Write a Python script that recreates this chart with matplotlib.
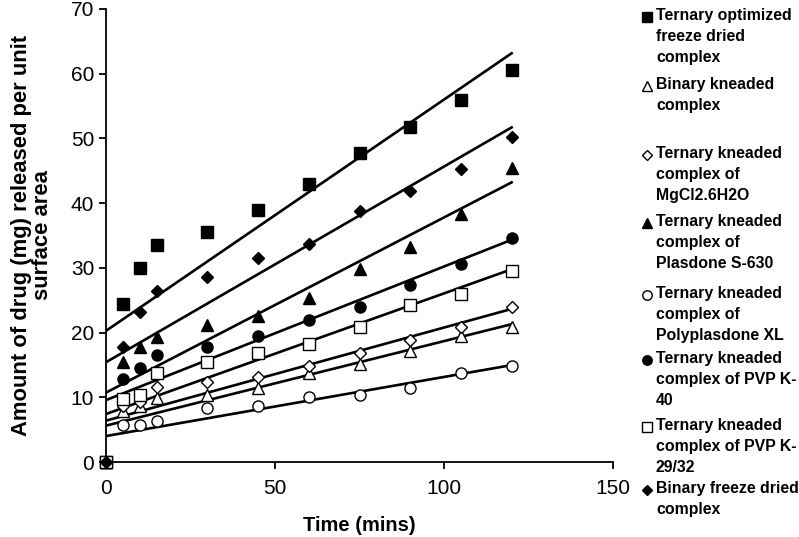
import matplotlib
matplotlib.use('Agg')
import matplotlib.pyplot as plt
from matplotlib.lines import Line2D
import numpy as np

plt.rcParams['font.family'] = ['Liberation Sans', 'DejaVu Sans']

# Time points (mins)
time = np.array([0, 5, 10, 15, 30, 45, 60, 75, 90, 105, 120])

# Amount released per unit surface area
tern_opt_fd = [0, 24.4, 30.0, 33.5, 35.5, 39.0, 42.9, 47.7, 51.8, 56.0, 60.5]
bin_kneaded = [0, 7.9, 8.6, 9.9, 10.3, 11.4, 13.7, 15.2, 17.1, 19.4, 20.8]
tern_mgcl2 = [0, 8.6, 9.3, 11.6, 12.3, 13.1, 14.9, 16.8, 18.8, 20.8, 23.9]
tern_plasdone = [0, 15.4, 17.7, 19.3, 21.1, 22.6, 25.4, 29.8, 33.2, 38.3, 45.4]
tern_polyplasdone = [0, 5.7, 5.7, 6.3, 8.3, 8.6, 10.0, 10.3, 11.4, 13.7, 14.8]
tern_pvp40 = [0, 12.9, 14.6, 16.6, 17.8, 19.4, 22.0, 23.9, 27.4, 30.6, 34.6]
tern_pvp29 = [0, 9.8, 10.3, 13.7, 15.4, 16.9, 18.3, 20.9, 24.2, 26.0, 29.5]
bin_fd = [0, 17.7, 23.2, 26.5, 28.6, 31.6, 33.7, 38.8, 41.8, 45.3, 50.2]

labels = ['Ternary optimized\nfreeze dried\ncomplex',
          'Binary kneaded\ncomplex',
          'Ternary kneaded\ncomplex of\nMgCl2.6H2O',
          'Ternary kneaded\ncomplex of\nPlasdone S-630',
          'Ternary kneaded\ncomplex of\nPolyplasdone XL',
          'Ternary kneaded\ncomplex of PVP K-\n40',
          'Ternary kneaded\ncomplex of PVP K-\n29/32',
          'Binary freeze dried\ncomplex']

series = [tern_opt_fd, bin_kneaded, tern_mgcl2, tern_plasdone,
          tern_polyplasdone, tern_pvp40, tern_pvp29, bin_fd]

# marker, fill, size
styles = [('s', 'black', 8), ('^', 'white', 8), ('D', 'white', 6.5),
          ('^', 'black', 8), ('o', 'white', 8), ('o', 'black', 8),
          ('s', 'white', 8), ('D', 'black', 6.5)]

fig = plt.figure(figsize=(7.99, 5.37), dpi=100)
ax = fig.add_axes([106 / 799, 1 - 462 / 537, (613 - 106) / 799, (462 - 9) / 537])

for y, (m, fc, ms) in zip(series, styles):
    y = np.array(y)
    k, b = np.polyfit(time, y, 1)
    ax.plot([0, 120], [b, b + 120 * k], color='black', lw=1.9, zorder=2)
    ax.plot(time, y, ls='none', marker=m, ms=ms, mfc=fc, mec='black',
            mew=1.0, zorder=3, clip_on=False)

ax.set_xlim(0, 150)
ax.set_ylim(0, 70)
ax.set_xticks([0, 50, 100, 150])
ax.set_yticks(range(0, 71, 10))
ax.spines['top'].set_visible(False)
ax.spines['right'].set_visible(False)
for s in ('left', 'bottom'):
    ax.spines[s].set_linewidth(1.3)
ax.tick_params(direction='out', length=5, width=1.3, labelsize=15)
ax.tick_params(axis='x', pad=7)

ax.set_xlabel('Time (mins)', fontsize=14.5, fontweight='bold', labelpad=13)
ax.set_ylabel('Amount of drug (mg) released per unit\nsurface area',
              fontsize=15.8, fontweight='bold', labelpad=13, linespacing=1.0)

# legend placed by hand to keep the original uneven spacing
leg_y = [17, 86, 155, 223, 295, 360, 427, 490]
for yy, lab, (m, fc, ms) in zip(leg_y, labels, styles):
    fy = 1 - yy / 537
    fig.add_artist(Line2D([647 / 799], [fy], transform=fig.transFigure,
                          marker=m, ms=ms * 0.85, mfc=fc, mec='black', mew=1.0))
    fig.text(656 / 799, fy + 9 / 537, lab, fontsize=11.4, fontweight='bold',
             va='top', ha='left', linespacing=1.5,
             transform=fig.transFigure)

fig.savefig('out.png', dpi=100)
